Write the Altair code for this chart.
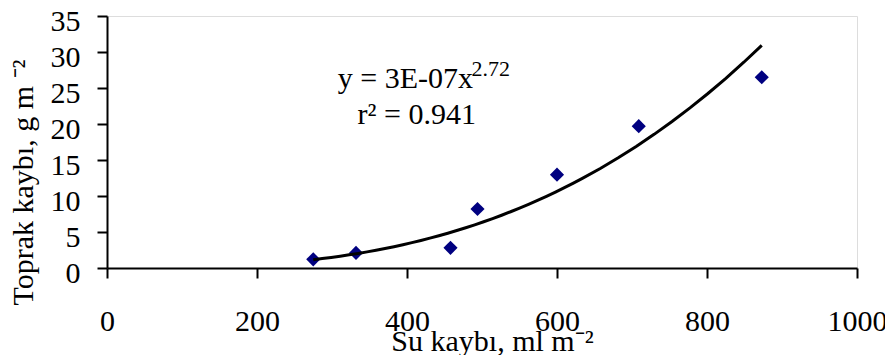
import altair as alt
import pandas as pd

# Data
su_kaybi = [275, 332, 458, 494, 600, 709, 873]          # x: Su kaybı, ml m-2
toprak_kaybi = [1.2, 2.1, 2.8, 8.2, 12.96, 19.7, 26.5]  # y: Toprak kaybı, g m-2
x_ticks = [0, 200, 400, 600, 800, 1000]
y_ticks = [0, 5, 10, 15, 20, 25, 30, 35]
eq_line1 = ["y = 3E-07x"]
eq_exp = ["2.72"]
eq_line2 = ["r² = 0.941"]

df = pd.DataFrame({"x": su_kaybi, "y": toprak_kaybi})

FONT = "Liberation Serif"

x_scale = alt.Scale(domain=[0, 1000], nice=False, zero=False)
y_scale = alt.Scale(domain=[0, 35], nice=False)

x_axis = alt.Axis(
    values=x_ticks,
    format="d",
    title="Su kaybı, ml m⁻²",
    grid=False,
    domainColor="black",
    domainWidth=2,
    tickColor="black",
    tickWidth=2,
    tickSize=10,
    labelFont=FONT,
    labelFontSize=30,
    labelColor="black",
    labelBaseline="alphabetic",
    labelPadding=52,
    labelFlush=False,
    labelOverlap=False,
    titleFont=FONT,
    titleFontSize=30,
    titleFontWeight="normal",
    titleColor="black",
    titleX=385,
    titleY=82,
    titleAlign="center",
    titleBaseline="alphabetic",
)

y_axis = alt.Axis(
    values=y_ticks,
    format="d",
    title="Toprak kaybı, g m ⁻²",
    grid=False,
    domainColor="black",
    domainWidth=2,
    tickColor="black",
    tickWidth=2,
    tickSize=10,
    labelFont=FONT,
    labelFontSize=30,
    labelColor="black",
    labelBaseline="alphabetic",
    labelOffset=14,
    labelPadding=17,
    labelFlush=False,
    labelOverlap=False,
    titleFont=FONT,
    titleFontSize=30,
    titleFontWeight="normal",
    titleColor="black",
    titleAngle=270,
    titleX=-75,
    titleY=166,
    titleAlign="center",
    titleBaseline="alphabetic",
)


def X(**kw):
    return alt.X(scale=x_scale, axis=x_axis, type="quantitative", **kw)


def Y(**kw):
    return alt.Y(scale=y_scale, axis=y_axis, type="quantitative", **kw)


points = alt.Chart(df).mark_point(
    shape="diamond", filled=True, color="#000080", size=200, opacity=1
).encode(x=X(field="x"), y=Y(field="y"))

trend = alt.Chart(df).transform_regression(
    "x", "y", method="pow"
).mark_line(color="black", strokeWidth=3).encode(x=X(field="x"), y=Y(field="y"))

t1 = alt.Chart(pd.DataFrame({"t": eq_line1})).mark_text(
    align="right", baseline="alphabetic", font=FONT, fontSize=30, color="black"
).encode(x=X(datum=488), y=Y(datum=25.0), text="t:N")

t_exp = alt.Chart(pd.DataFrame({"t": eq_exp})).mark_text(
    align="left", baseline="alphabetic", font=FONT, fontSize=22, color="black"
).encode(x=X(datum=486), y=Y(datum=26.6), text="t:N")

t2 = alt.Chart(pd.DataFrame({"t": eq_line2})).mark_text(
    align="center", baseline="alphabetic", font=FONT, fontSize=30, color="black"
).encode(x=X(datum=413), y=Y(datum=20.0), text="t:N")

chart = alt.layer(points, trend, t1, t_exp, t2).properties(
    width=750,
    height=252,
    autosize=alt.AutoSizeParams(type="none"),
    padding={"left": 99, "top": 8, "right": 28, "bottom": 87},
).configure_view(stroke=None).configure(background="white")

chart.save("out.html", embed_options={"renderer": "svg", "actions": False})
